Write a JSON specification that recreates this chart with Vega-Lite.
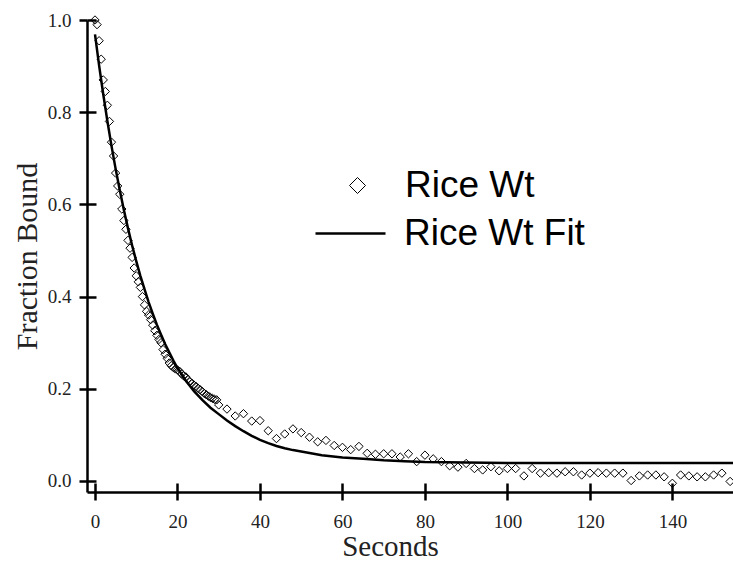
{
  "$schema": "https://vega.github.io/schema/vega-lite/v6.json",
  "width": 646,
  "height": 472,
  "autosize": {"type": "none"},
  "padding": {"left": 87, "top": 20, "right": 0, "bottom": 69},
  "background": "white",
  "config": {"view": {"stroke": null}},
  "datasets": {
    "obs": [
      {"t":0,"f":1.000,"series":"Rice Wt"},{"t":0.5,"f":0.990,"series":"Rice Wt"},{"t":1,"f":0.955,"series":"Rice Wt"},{"t":1.5,"f":0.915,"series":"Rice Wt"},
      {"t":2,"f":0.870,"series":"Rice Wt"},{"t":2.5,"f":0.845,"series":"Rice Wt"},{"t":3,"f":0.815,"series":"Rice Wt"},{"t":3.5,"f":0.780,"series":"Rice Wt"},
      {"t":4,"f":0.735,"series":"Rice Wt"},{"t":4.5,"f":0.705,"series":"Rice Wt"},{"t":5,"f":0.668,"series":"Rice Wt"},{"t":5.5,"f":0.640,"series":"Rice Wt"},
      {"t":6,"f":0.622,"series":"Rice Wt"},{"t":6.5,"f":0.590,"series":"Rice Wt"},{"t":7,"f":0.565,"series":"Rice Wt"},{"t":7.5,"f":0.546,"series":"Rice Wt"},
      {"t":8,"f":0.522,"series":"Rice Wt"},{"t":8.5,"f":0.505,"series":"Rice Wt"},{"t":9,"f":0.485,"series":"Rice Wt"},{"t":9.5,"f":0.462,"series":"Rice Wt"},
      {"t":10,"f":0.445,"series":"Rice Wt"},{"t":10.5,"f":0.432,"series":"Rice Wt"},{"t":11,"f":0.420,"series":"Rice Wt"},{"t":11.5,"f":0.400,"series":"Rice Wt"},
      {"t":12,"f":0.382,"series":"Rice Wt"},{"t":12.5,"f":0.368,"series":"Rice Wt"},{"t":13,"f":0.360,"series":"Rice Wt"},{"t":13.5,"f":0.350,"series":"Rice Wt"},
      {"t":14,"f":0.338,"series":"Rice Wt"},{"t":14.5,"f":0.326,"series":"Rice Wt"},{"t":15,"f":0.316,"series":"Rice Wt"},{"t":15.5,"f":0.307,"series":"Rice Wt"},
      {"t":16,"f":0.300,"series":"Rice Wt"},{"t":16.5,"f":0.285,"series":"Rice Wt"},{"t":17,"f":0.275,"series":"Rice Wt"},{"t":17.5,"f":0.266,"series":"Rice Wt"},
      {"t":18,"f":0.256,"series":"Rice Wt"},{"t":18.5,"f":0.250,"series":"Rice Wt"},{"t":19,"f":0.246,"series":"Rice Wt"},{"t":19.5,"f":0.243,"series":"Rice Wt"},
      {"t":20,"f":0.241,"series":"Rice Wt"},{"t":20.5,"f":0.238,"series":"Rice Wt"},{"t":21,"f":0.232,"series":"Rice Wt"},{"t":21.5,"f":0.228,"series":"Rice Wt"},
      {"t":22,"f":0.226,"series":"Rice Wt"},{"t":22.5,"f":0.220,"series":"Rice Wt"},{"t":23,"f":0.215,"series":"Rice Wt"},{"t":23.5,"f":0.212,"series":"Rice Wt"},
      {"t":24,"f":0.208,"series":"Rice Wt"},{"t":24.5,"f":0.205,"series":"Rice Wt"},{"t":25,"f":0.201,"series":"Rice Wt"},{"t":25.5,"f":0.198,"series":"Rice Wt"},
      {"t":26,"f":0.194,"series":"Rice Wt"},{"t":26.5,"f":0.190,"series":"Rice Wt"},{"t":27,"f":0.187,"series":"Rice Wt"},{"t":27.5,"f":0.184,"series":"Rice Wt"},
      {"t":28,"f":0.181,"series":"Rice Wt"},{"t":28.5,"f":0.179,"series":"Rice Wt"},{"t":29,"f":0.177,"series":"Rice Wt"},{"t":29.5,"f":0.176,"series":"Rice Wt"},
      {"t":30,"f":0.165,"series":"Rice Wt"},{"t":32,"f":0.156,"series":"Rice Wt"},{"t":34,"f":0.141,"series":"Rice Wt"},{"t":36,"f":0.146,"series":"Rice Wt"},
      {"t":38,"f":0.130,"series":"Rice Wt"},{"t":40,"f":0.131,"series":"Rice Wt"},{"t":42,"f":0.109,"series":"Rice Wt"},{"t":44,"f":0.092,"series":"Rice Wt"},
      {"t":46,"f":0.102,"series":"Rice Wt"},{"t":48,"f":0.113,"series":"Rice Wt"},{"t":50,"f":0.105,"series":"Rice Wt"},{"t":52,"f":0.095,"series":"Rice Wt"},
      {"t":54,"f":0.085,"series":"Rice Wt"},{"t":56,"f":0.088,"series":"Rice Wt"},{"t":58,"f":0.077,"series":"Rice Wt"},{"t":60,"f":0.073,"series":"Rice Wt"},
      {"t":62,"f":0.068,"series":"Rice Wt"},{"t":64,"f":0.075,"series":"Rice Wt"},{"t":66,"f":0.060,"series":"Rice Wt"},{"t":68,"f":0.058,"series":"Rice Wt"},
      {"t":70,"f":0.059,"series":"Rice Wt"},{"t":72,"f":0.059,"series":"Rice Wt"},{"t":74,"f":0.052,"series":"Rice Wt"},{"t":76,"f":0.059,"series":"Rice Wt"},
      {"t":78,"f":0.042,"series":"Rice Wt"},{"t":80,"f":0.056,"series":"Rice Wt"},{"t":82,"f":0.048,"series":"Rice Wt"},{"t":84,"f":0.042,"series":"Rice Wt"},
      {"t":86,"f":0.033,"series":"Rice Wt"},{"t":88,"f":0.030,"series":"Rice Wt"},{"t":90,"f":0.038,"series":"Rice Wt"},{"t":92,"f":0.027,"series":"Rice Wt"},
      {"t":94,"f":0.024,"series":"Rice Wt"},{"t":96,"f":0.031,"series":"Rice Wt"},{"t":98,"f":0.022,"series":"Rice Wt"},{"t":100,"f":0.027,"series":"Rice Wt"},
      {"t":102,"f":0.027,"series":"Rice Wt"},{"t":104,"f":0.011,"series":"Rice Wt"},{"t":106,"f":0.027,"series":"Rice Wt"},{"t":108,"f":0.017,"series":"Rice Wt"},
      {"t":110,"f":0.018,"series":"Rice Wt"},{"t":112,"f":0.017,"series":"Rice Wt"},{"t":114,"f":0.020,"series":"Rice Wt"},{"t":116,"f":0.020,"series":"Rice Wt"},
      {"t":118,"f":0.013,"series":"Rice Wt"},{"t":120,"f":0.017,"series":"Rice Wt"},{"t":122,"f":0.018,"series":"Rice Wt"},{"t":124,"f":0.017,"series":"Rice Wt"},
      {"t":126,"f":0.017,"series":"Rice Wt"},{"t":128,"f":0.017,"series":"Rice Wt"},{"t":130,"f":0.001,"series":"Rice Wt"},{"t":132,"f":0.011,"series":"Rice Wt"},
      {"t":134,"f":0.013,"series":"Rice Wt"},{"t":136,"f":0.013,"series":"Rice Wt"},{"t":138,"f":0.009,"series":"Rice Wt"},{"t":140,"f":-0.005,"series":"Rice Wt"},
      {"t":142,"f":0.013,"series":"Rice Wt"},{"t":144,"f":0.011,"series":"Rice Wt"},{"t":146,"f":0.009,"series":"Rice Wt"},{"t":148,"f":0.009,"series":"Rice Wt"},
      {"t":150,"f":0.013,"series":"Rice Wt"},{"t":152,"f":0.017,"series":"Rice Wt"},{"t":154,"f":-0.001,"series":"Rice Wt"}
    ],
    "fit": [
      {"t":0,"f":0.969,"series":"Rice Wt Fit"},{"t":1,"f":0.901,"series":"Rice Wt Fit"},{"t":2,"f":0.839,"series":"Rice Wt Fit"},{"t":3,"f":0.781,"series":"Rice Wt Fit"},
      {"t":4,"f":0.727,"series":"Rice Wt Fit"},{"t":5,"f":0.677,"series":"Rice Wt Fit"},{"t":6,"f":0.631,"series":"Rice Wt Fit"},{"t":7,"f":0.588,"series":"Rice Wt Fit"},
      {"t":8,"f":0.548,"series":"Rice Wt Fit"},{"t":9,"f":0.511,"series":"Rice Wt Fit"},{"t":10,"f":0.477,"series":"Rice Wt Fit"},{"t":11,"f":0.445,"series":"Rice Wt Fit"},
      {"t":12,"f":0.416,"series":"Rice Wt Fit"},{"t":13,"f":0.388,"series":"Rice Wt Fit"},{"t":14,"f":0.363,"series":"Rice Wt Fit"},{"t":15,"f":0.339,"series":"Rice Wt Fit"},
      {"t":16,"f":0.318,"series":"Rice Wt Fit"},{"t":17,"f":0.297,"series":"Rice Wt Fit"},{"t":18,"f":0.279,"series":"Rice Wt Fit"},{"t":19,"f":0.261,"series":"Rice Wt Fit"},
      {"t":20,"f":0.245,"series":"Rice Wt Fit"},{"t":22,"f":0.218,"series":"Rice Wt Fit"},{"t":24,"f":0.195,"series":"Rice Wt Fit"},{"t":26,"f":0.176,"series":"Rice Wt Fit"},
      {"t":28,"f":0.159,"series":"Rice Wt Fit"},{"t":30,"f":0.145,"series":"Rice Wt Fit"},{"t":32,"f":0.131,"series":"Rice Wt Fit"},{"t":34,"f":0.119,"series":"Rice Wt Fit"},
      {"t":36,"f":0.108,"series":"Rice Wt Fit"},{"t":38,"f":0.098,"series":"Rice Wt Fit"},{"t":40,"f":0.089,"series":"Rice Wt Fit"},{"t":42,"f":0.082,"series":"Rice Wt Fit"},
      {"t":44,"f":0.076,"series":"Rice Wt Fit"},{"t":46,"f":0.071,"series":"Rice Wt Fit"},{"t":48,"f":0.067,"series":"Rice Wt Fit"},{"t":50,"f":0.064,"series":"Rice Wt Fit"},
      {"t":55,"f":0.056,"series":"Rice Wt Fit"},{"t":60,"f":0.051,"series":"Rice Wt Fit"},{"t":65,"f":0.048,"series":"Rice Wt Fit"},{"t":70,"f":0.045,"series":"Rice Wt Fit"},
      {"t":75,"f":0.043,"series":"Rice Wt Fit"},{"t":80,"f":0.041,"series":"Rice Wt Fit"},{"t":90,"f":0.040,"series":"Rice Wt Fit"},{"t":100,"f":0.039,"series":"Rice Wt Fit"},
      {"t":155,"f":0.039,"series":"Rice Wt Fit"}
    ]
  },
  "encoding": {
    "x": {
      "field": "t", "type": "quantitative",
      "scale": {"domain": [-1.94, 154.7], "nice": false, "zero": false},
      "axis": {
        "title": "Seconds", "values": [0,20,40,60,80,100,120,140], "format": "d",
        "domainColor": "black", "domainWidth": 2.5, "tickColor": "black", "tickWidth": 2.5, "tickSize": 8,
        "grid": true, "gridColor": "black", "gridWidth": 2.5, "gridDash": [0, 463, 9, 3000],
        "labelFont": "Liberation Serif", "labelFontSize": 19, "labelColor": "#222", "labelPadding": 12,
        "titleFont": "Liberation Serif", "titleFontSize": 29, "titleFontWeight": "normal", "titleColor": "#222",
        "titleX": 303, "titleY": 63, "titleAlign": "center", "titleBaseline": "alphabetic"
      }
    },
    "y": {
      "field": "f", "type": "quantitative",
      "scale": {"domain": [-0.0239, 1.0], "nice": false, "zero": false},
      "axis": {
        "title": "Fraction Bound", "values": [0,0.2,0.4,0.6,0.8,1.0], "format": ".1f",
        "domainColor": "black", "domainWidth": 2.5, "tickColor": "black", "tickWidth": 2.5, "tickSize": 8,
        "grid": true, "gridColor": "black", "gridWidth": 2.5, "gridDash": [9, 3000],
        "labelFont": "Liberation Serif", "labelFontSize": 19, "labelColor": "#222", "labelPadding": 8,
        "titleFont": "Liberation Serif", "titleFontSize": 30, "titleFontWeight": "normal", "titleColor": "#222",
        "titlePadding": 5
      }
    }
  },
  "layer": [
    {
      "data": {"name": "fit"},
      "mark": {"type": "line", "color": "black", "strokeWidth": 2.5, "clip": true},
      "encoding": {
        "color": {
          "field": "series", "type": "nominal",
          "scale": {"range": ["black"]},
          "legend": {
            "title": null, "orient": "none", "legendX": 227, "legendY": 177, "padding": 0, "offset": 0,
            "symbolType": "stroke", "symbolSize": 4900, "symbolStrokeWidth": 2.5, "symbolStrokeColor": "black",
            "labelFont": "Liberation Sans", "labelFontSize": 37, "labelColor": "black", "labelOffset": 17, "labelLimit": 500
          }
        }
      }
    },
    {
      "data": {"name": "obs"},
      "mark": {"type": "point", "filled": false, "color": "black", "strokeWidth": 1, "size": 70, "opacity": 1},
      "encoding": {
        "shape": {
          "field": "series", "type": "nominal",
          "scale": {"range": ["diamond"]},
          "legend": {
            "title": null, "orient": "none", "legendX": 252, "legendY": 147, "padding": 0, "offset": 0,
            "symbolSize": 256, "symbolStrokeWidth": 1, "symbolStrokeColor": "black", "symbolFillColor": "white", "symbolOpacity": 1,
            "labelFont": "Liberation Sans", "labelFontSize": 37, "labelColor": "black", "labelOffset": 29, "labelLimit": 500
          }
        }
      }
    }
  ]
}
